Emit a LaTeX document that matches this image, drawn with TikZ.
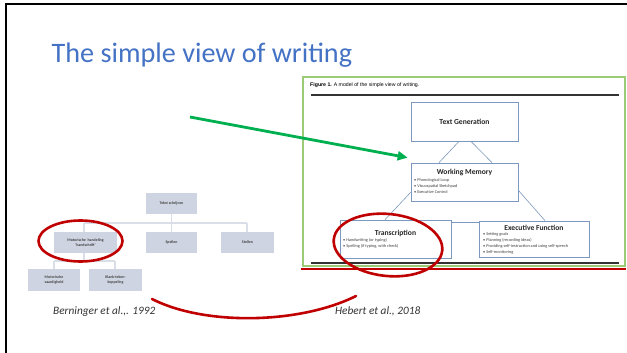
\documentclass[tikz,border=0pt]{standalone}
\usepackage{fontspec}
\setmainfont{Carlito}
\newfontfamily\arialf{Liberation Sans}
\usetikzlibrary{arrows.meta,shapes.geometric,calc}
\definecolor{titleblue}{HTML}{4472C4}
\definecolor{slidered}{HTML}{C00000}
\definecolor{arrowgreen}{HTML}{00B050}
\definecolor{figgreen}{HTML}{9BCB77}
\definecolor{boxblue}{RGB}{125,152,190}
\definecolor{greyfill}{RGB}{207,212,226}
\definecolor{greyline}{RGB}{218,222,232}
\tikzset{
  hbox/.style={draw=boxblue, line width=0.7pt, fill=white, inner sep=0pt},
  htitle/.style={font=\bfseries\fontsize{7.6}{9}\selectfont, text=black!85, inner sep=0pt},
  hbullets/.style={font=\fontsize{4.3}{6}\selectfont, text=black!75, align=left, inner sep=0pt, anchor=north west},
  gbox/.style={fill=greyfill, inner sep=0pt, minimum width=51pt, minimum height=21pt,
     font=\bfseries\fontsize{3.9}{5.4}\selectfont, text=black!75, align=center},
  gline/.style={draw=greyline, line width=1.3pt},
  ring/.style={draw=slidered, line width=2.6pt},
  hline/.style={draw=boxblue, line width=0.6pt},
  cite/.style={font=\itshape\fontsize{11.3}{13}\selectfont, text=black!80, anchor=base west, inner sep=0pt}
}
\begin{document}
\begin{tikzpicture}[x=1pt,y=-1pt]
\useasboundingbox (0,0) rectangle (627,353);
% slide frame
\draw[line width=1.8pt] (6,353) -- (6,4) -- (627,4);
% title
\node[anchor=base west, inner sep=0pt, text=titleblue, font=\fontsize{28.2}{32}\selectfont] (title) at (51.5,63) {The simple view of writing};

% ---------- Hebert figure ----------
\draw[slidered, line width=2pt] (301,268.5) -- (626,268.5);
\draw[slidered!70, line width=0.8pt] (302,78) -- (302,267);
\draw[figgreen, line width=1.1pt, fill=white] (303,77) rectangle (625,266);
\node[anchor=west, inner sep=0pt, font=\arialf\fontsize{5.2}{6}\selectfont] (figcap) at (310,85) {\textbf{Figure 1.} A model of the simple view of writing.};
\draw[line width=1.3pt, black!80] (311,95) -- (619,95);
\draw[line width=1.3pt, black!80] (311,263) -- (619,263);

\node[hbox, minimum width=107pt, minimum height=39pt] (tg) at (464.5,121.5) {};
\node[htitle] (tgt) at (tg.center) {Text Generation};

\node[hbox, minimum width=107pt, minimum height=38pt] (wm) at (464.5,182) {};
\node[htitle] (wmt) at (464.5,172) {Working Memory};
\node[hbullets] (wmb) at (414,178.5) {• Phonological Loop\\• Visuospatial Sketchpad\\• Executive Control};

\node[hbox, minimum width=111pt, minimum height=38pt] (tr) at (395.5,239) {};
\node[htitle] (trt) at (395.5,233) {Transcription};
\node[hbullets] (trb) at (343,238.5) {• Handwriting (or typing)\\• Spelling (if typing, with check)};

\node[hbox, minimum width=110pt, minimum height=36pt] (ef) at (534,239) {};
\node[htitle] (eft) at (534,227.5) {Executive Function};
\node[hbullets] (efb) at (483,232.5) {• Setting goals\\• Planning (recording ideas)\\• Providing self-instruction and using self-speech\\• Self-monitoring};

\draw[hline] ($(tg.south)+(-5.5,0)$) -- ($(wm.north)+(-25.5,0)$);
\draw[hline] ($(tg.south)+(6.5,0)$) -- ($(wm.north)+(27.5,0)$);
\draw[hline] ($(wm.south west)+(0,-9)$) -- ($(tr.north)+(-10.5,0)$);
\draw[hline] ($(wm.south east)+(0,-11)$) -- ($(ef.north)+(11,0)$);
\draw[hline] ($(tr.north east)+(0,3)$) -- ($(ef.north west)+(0,2)$);

% ---------- Berninger diagram ----------
\node[gbox] (tekst) at (171.5,203.5) {Tekst schrijven};
\node[gbox, minimum width=63pt] (motor) at (85.5,242.5) {Motorische \ handeling\\'handschrift'};
\node[gbox] (spell) at (171.5,242.5) {Spellen};
\node[gbox, minimum width=53pt] (stel) at (247.5,242.5) {Stellen};
\node[gbox, minimum width=52pt, minimum height=22pt] (mvaard) at (54,280) {Motorische\\vaardigheid};
\node[gbox, minimum width=53pt, minimum height=22pt] (klank) at (115.5,280) {Klank-teken-\\koppeling};

\coordinate (j1) at (171.5,223);
\coordinate (j1l) at (84,223);
\coordinate (j1r) at (247,223);
\draw[gline] (tekst.south) -- (j1);
\draw[gline] (j1l) -- (j1r);
\draw[gline] (j1l) -- (j1l |- motor.north);
\draw[gline] (j1) -- (spell.north);
\draw[gline] (j1r) -- (j1r |- stel.north);
\coordinate (j2) at (84,261);
\coordinate (j2l) at (54,261);
\coordinate (j2r) at (115,261);
\draw[gline] (j1l |- motor.south) -- (j2);
\draw[gline] (j2l) -- (j2r);
\draw[gline] (j2l) -- (mvaard.north);
\draw[gline] (j2r) -- (j2r |- klank.north);

% ---------- annotations ----------
\coordinate (gs) at (190,117);
\draw[arrowgreen, line width=2.8pt, -{Triangle[length=10pt,width=9pt]}] (gs) -- ($(wm.north west)+(-3,-5)$);

\node[ellipse, ring, minimum width=109pt, minimum height=62pt, rotate=-6] (ring1) at (388,245) {};
\node[ellipse, ring, minimum width=84pt, minimum height=41pt] (ring2) at (80.5,241) {};

\coordinate (arcl) at (152,299);
\coordinate (arcr) at (356,296);
\draw[ring, line cap=round] (arcl) .. controls (205,326) and (300,324) .. (arcr);

\node[cite] (c1) at (53,314) {Berninger et al.,. 1992};
\node[cite] (c2) at (335,314) {Hebert et al., 2018};
\end{tikzpicture}
\end{document}
